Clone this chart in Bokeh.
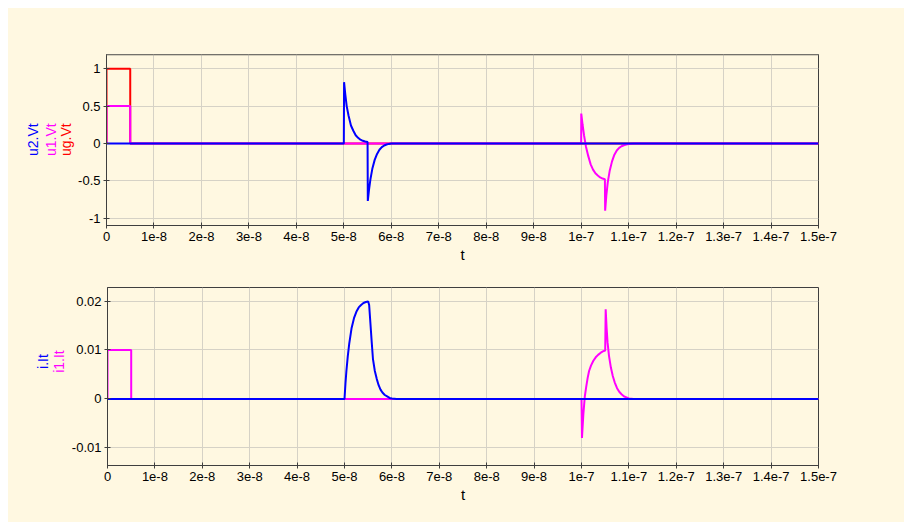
import numpy as np
from bokeh.plotting import figure
from bokeh.layouts import column, row
from bokeh.models import Range1d, FixedTicker, Span
from bokeh.core.properties import value
from bokeh.embed import file_html
from bokeh.resources import INLINE

# ---------------- data (time in ns) ----------------
x_ticks = [0, 1e-8, 2e-8, 3e-8, 4e-8, 5e-8, 6e-8, 7e-8, 8e-8, 9e-8,
           1e-7, 1.1e-7, 1.2e-7, 1.3e-7, 1.4e-7, 1.5e-7]
x_tick_labels = ["0", "1e-8", "2e-8", "3e-8", "4e-8", "5e-8", "6e-8", "7e-8", "8e-8", "9e-8",
                 "1e-7", "1.1e-7", "1.2e-7", "1.3e-7", "1.4e-7", "1.5e-7"]
top_y_ticks = [-1, -0.5, 0, 0.5, 1]
top_y_tick_labels = ["-1", "-0.5", "0", "0.5", "1"]
bot_y_ticks = [-0.01, 0, 0.01, 0.02]
bot_y_tick_labels = ["-0.01", "0", "0.01", "0.02"]

top_series_names = ["u2.Vt", "u1.Vt", "ug.Vt"]
bot_series_names = ["i.It", "i1.It"]

ug_t = [0, 0, 5, 5, 150]
ug_v = [0, 1, 1, 0, 0]

u1_t = [0, 0, 5, 5, 100, 100.02, 100.3, 100.6, 101.0, 101.5, 102.0, 102.5, 103.0, 103.5,
        104.0, 104.5, 105.0, 105.05, 105.3, 105.6, 106.0, 106.5, 107.0, 107.5, 108.0,
        108.5, 109.0, 109.5, 110.0, 111.0, 150]
u1_v = [0, 0.5, 0.5, 0, 0, 0.40, 0.25, 0.11, -0.04, -0.17, -0.28, -0.35, -0.40, -0.43,
        -0.455, -0.47, -0.48, -0.90, -0.70, -0.52, -0.37, -0.24, -0.15, -0.095, -0.06,
        -0.038, -0.024, -0.015, -0.008, -0.002, 0]

u2_t = [0, 50.0, 50.05, 50.3, 50.6, 51.0, 51.5, 52.0, 52.5, 53.0, 53.5, 54.0, 54.5, 55.0,
        55.05, 55.3, 55.6, 56.0, 56.5, 57.0, 57.5, 58.0, 58.5, 59.0, 59.5, 60.0, 60.5, 150]
u2_v = [0, 0, 0.82, 0.66, 0.50, 0.37, 0.24, 0.17, 0.11, 0.075, 0.05, 0.035, 0.025, 0.018,
        -0.77, -0.62, -0.48, -0.34, -0.22, -0.14, -0.085, -0.05, -0.027, -0.014, -0.006,
        -0.002, 0, 0]

i1_t = [0, 0, 5, 5, 100.0, 100.1, 100.4, 100.7, 101.0, 101.3, 101.6, 102.0, 102.5, 103.0,
        103.5, 104.0, 104.5, 105.0, 105.1, 105.3, 105.5, 105.8, 106.2, 106.6, 107.0, 107.5,
        108.0, 108.5, 109.0, 109.5, 110.0, 111.0, 150]
i1_v = [0, 0.01, 0.01, 0, 0, -0.008, -0.003, 0.0005, 0.0025, 0.0043, 0.0057, 0.0068, 0.0078,
        0.0085, 0.009, 0.0094, 0.0097, 0.0099, 0.0183, 0.0145, 0.0115, 0.0088, 0.0064,
        0.0047, 0.0034, 0.0022, 0.0014, 0.0009, 0.0005, 0.0003, 0.0001, 0, 0]

i_t = [0, 50.0, 50.2, 50.4, 50.7, 51.0, 51.5, 52.0, 52.5, 53.0, 53.5, 54.0, 54.5, 55.0,
       55.2, 55.5, 55.75, 56.0, 56.4, 56.8, 57.2, 57.6, 58.0, 58.5, 59.0, 59.5, 60.0, 61.0, 150]
i_v = [0, 0, 0.0031, 0.0057, 0.0088, 0.0113, 0.0145, 0.0165, 0.0178, 0.0187, 0.0192, 0.0196,
       0.0198, 0.0199, 0.0192, 0.0150, 0.0115, 0.0082, 0.0057, 0.0041, 0.0028, 0.0019, 0.0013,
       0.0008, 0.0005, 0.0002, 0.0001, 0, 0]

NS = 1e-9
BG = "#FFF8E1"
GRID = "#D6D2C6"
AX = "#3F3F3F"
FONT = "Liberation Sans"
BLUE, MAGENTA, RED = "#0000FF", "#FF00FF", "#FF0000"

X_MIN, X_MAX = 0, 1.5e-7
TOTAL_W = 896
FRAME_LEFT = 97      # frame left edge inside the cream area
FRAME_RIGHT_BORDER = 86


def style(p, yticks, ylabels):
    p.background_fill_color = BG
    p.border_fill_color = BG
    p.outline_line_color = AX
    p.outline_line_width = 1
    p.xaxis.ticker = FixedTicker(ticks=x_ticks)
    p.xaxis.major_label_overrides = dict(zip(x_ticks, x_tick_labels))
    p.yaxis.ticker = FixedTicker(ticks=yticks)
    p.yaxis.major_label_overrides = dict(zip(yticks, ylabels))
    for ax in (p.xaxis, p.yaxis):
        ax.axis_line_color = AX
        ax.major_tick_line_color = AX
        ax.major_tick_in = 3
        ax.major_tick_out = 3
        ax.minor_tick_line_color = None
        ax.major_label_text_font = FONT
        ax.major_label_text_font_size = "13px"
        ax.major_label_text_color = "#000000"
        ax.major_label_standoff = 3
    p.xaxis.axis_label = "t"
    p.xaxis.axis_label_text_font = FONT
    p.xaxis.axis_label_text_font_size = "15px"
    p.xaxis.axis_label_text_font_style = "normal"
    p.xaxis.axis_label_text_color = "#000000"
    p.xaxis.axis_label_standoff = 2
    p.xgrid.grid_line_color = GRID
    p.ygrid.grid_line_color = GRID
    p.xgrid.ticker = FixedTicker(ticks=x_ticks)
    p.ygrid.ticker = FixedTicker(ticks=yticks)


def label_panel(width, height, names, colors, xs, y_center):
    lp = figure(width=width, height=height, output_backend="svg", toolbar_location=None,
                x_range=Range1d(0, width), y_range=Range1d(0, height),
                x_axis_type=None, y_axis_type=None,
                min_border=0, min_border_left=0, min_border_right=0,
                min_border_top=0, min_border_bottom=0)
    lp.background_fill_color = BG
    lp.border_fill_color = BG
    lp.outline_line_color = None
    lp.grid.visible = False
    lp.text(x=xs, y=[y_center] * len(names), text=names, text_color=colors,
            angle=np.pi / 2, text_font=value(FONT), text_font_size=value("14px"),
            text_align="center", text_baseline="middle")
    return lp


# ---------------- top plot ----------------
H1, TOP1, BOT1 = 264, 46, 47
L1 = 67
y1_min, y1_max = -1.098, 1.19
p1 = figure(width=TOTAL_W - L1, height=H1, output_backend="svg", toolbar_location=None,
            x_range=Range1d(X_MIN, X_MAX), y_range=Range1d(y1_min, y1_max),
            min_border_left=FRAME_LEFT - L1, min_border_right=FRAME_RIGHT_BORDER,
            min_border_top=TOP1, min_border_bottom=BOT1)
style(p1, top_y_ticks, top_y_tick_labels)
p1.line(np.array(ug_t) * NS, ug_v, line_color=RED, line_width=2)
p1.line(np.array(u1_t) * NS, u1_v, line_color=MAGENTA, line_width=2)
p1.line(np.array(u2_t) * NS, u2_v, line_color=BLUE, line_width=2)
p1.add_layout(Span(location=y1_max, dimension="width", line_color="#A8A498", line_width=2))
lab1 = label_panel(L1, H1, top_series_names, [BLUE, MAGENTA, RED], [24.5, 42.0, 57.5],
                   H1 - (TOP1 + (H1 - TOP1 - BOT1) / 2))

# ---------------- bottom plot ----------------
H2, TOP2, BOT2 = 250, 15, 57
L2 = 60
y2_min, y2_max = -0.01361, 0.02277
p2 = figure(width=TOTAL_W - L2, height=H2, output_backend="svg", toolbar_location=None,
            x_range=Range1d(X_MIN, X_MAX), y_range=Range1d(y2_min, y2_max),
            min_border_left=FRAME_LEFT - L2, min_border_right=FRAME_RIGHT_BORDER,
            min_border_top=TOP2, min_border_bottom=BOT2)
style(p2, bot_y_ticks, bot_y_tick_labels)
p2.line(np.array(i1_t) * NS, i1_v, line_color=MAGENTA, line_width=2)
p2.line(np.array(i_t) * NS, i_v, line_color=BLUE, line_width=2)
lab2 = label_panel(L2, H2, bot_series_names, [BLUE, MAGENTA], [34.5, 50.5],
                   H2 - (TOP2 + (H2 - TOP2 - BOT2) / 2))

bg_style = {"background-color": BG}
layout = column(row(lab1, p1, spacing=0, styles=bg_style),
                row(lab2, p2, spacing=0, styles=bg_style),
                spacing=0, margin=(8, 0, 0, 8), styles=bg_style)
open("out.html", "w").write(file_html(layout, INLINE))
